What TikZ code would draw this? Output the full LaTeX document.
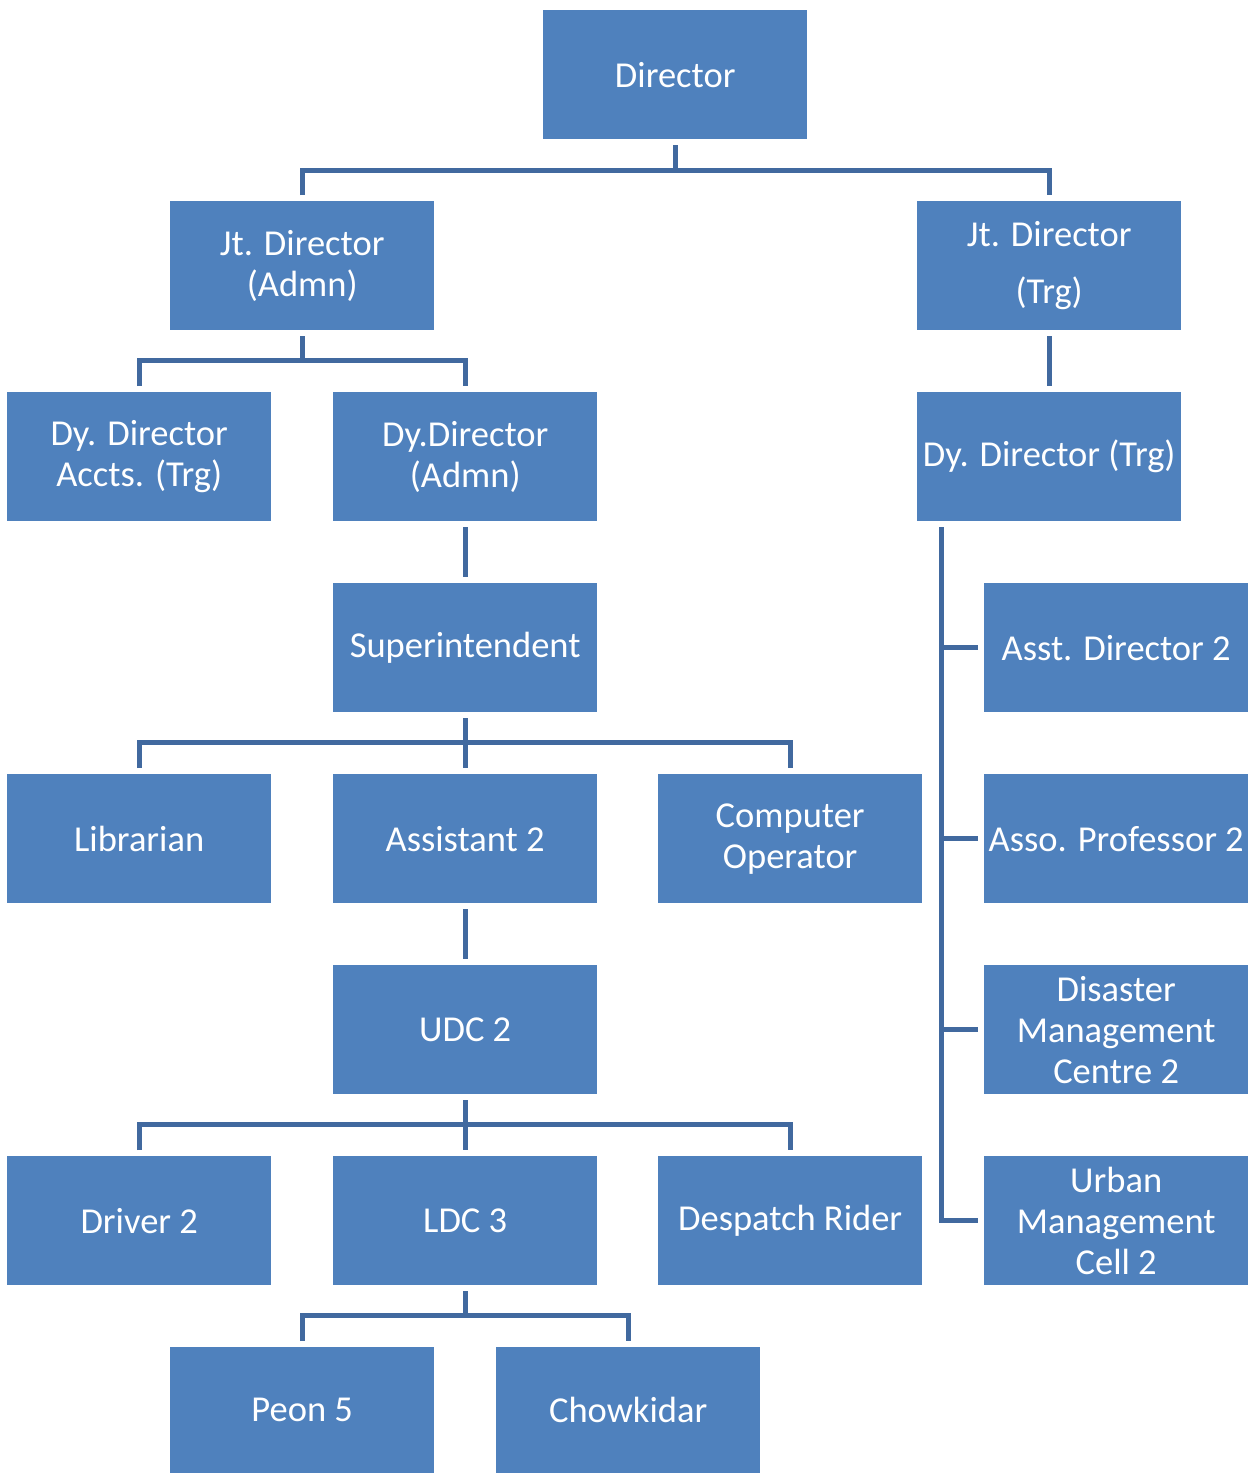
\documentclass[tikz,border=0pt]{standalone}
\usepackage{fontspec}
\setmainfont{Carlito}
\begin{document}
\begin{tikzpicture}[x=1pt,y=-1pt,
  box/.style={fill=boxblue,draw=none,text=white,minimum width=264pt,minimum height=129pt,inner sep=0pt,anchor=north west,align=center,font=\fontsize{36.5}{41}\selectfont},
  conn/.style={draw=lineblue,line width=5pt,line join=miter}]
\definecolor{boxblue}{HTML}{4F81BD}
\definecolor{lineblue}{HTML}{41699F}
\useasboundingbox (0,0) rectangle (1250,1473);
% nodes
\node[box] (dir) at (543,10) {Director};
\node[box] (jta) at (170,201) {Jt. Director\\(Admn)};
\node[box,font=\fontsize{36.5}{57}\selectfont] (jtt) at (917,201) {Jt. Director\\(Trg)};
\node[box] (dda) at (7,392) {Dy. Director\\Accts. (Trg)};
\node[box] (ddad) at (333,392) {Dy.Director\\(Admn)};
\node[box] (ddt) at (917,392) {Dy. Director (Trg)};
\node[box] (sup) at (333,583) {Superintendent};
\node[box] (adir) at (984,583) {Asst. Director 2};
\node[box] (lib) at (7,774) {Librarian};
\node[box] (asst) at (333,774) {Assistant 2};
\node[box] (cop) at (658,774) {Computer\\Operator};
\node[box] (apr) at (984,774) {Asso. Professor 2};
\node[box] (udc) at (333,965) {UDC 2};
\node[box] (dmc) at (984,965) {Disaster\\Management\\Centre 2};
\node[box] (drv) at (7,1156) {Driver 2};
\node[box] (ldc) at (333,1156) {LDC 3};
\node[box] (dsp) at (658,1156) {Despatch Rider};
\node[box] (umc) at (984,1156) {Urban\\Management\\Cell 2};
\node[box,minimum height=126pt] (peon) at (170,1347) {Peon 5};
\node[box,minimum height=126pt] (chk) at (496,1347) {Chowkidar};
% connectors
\draw[conn] ([yshift=-6pt]dir.south) -- ++(0,25) coordinate (d1);
\draw[conn] ([yshift=6pt]jta.north) |- (d1) -| ([yshift=6pt]jtt.north);
\draw[conn] ([yshift=-6pt]jta.south) -- ++(0,24) coordinate (j1);
\draw[conn] ([yshift=6pt]dda.north) |- (j1) -| ([yshift=6pt]ddad.north);
\draw[conn] ([yshift=-6pt]jtt.south) -- ([yshift=6pt]ddt.north);
\draw[conn] ([yshift=-6pt]ddad.south) -- ([yshift=6pt]sup.north);
\draw[conn] ([yshift=-6pt]sup.south) -- ([yshift=6pt]asst.north);
\draw[conn] ([yshift=6pt]lib.north) |- (sup.south |- 0,742) -| ([yshift=6pt]cop.north);
\draw[conn] ([yshift=-6pt]asst.south) -- ([yshift=6pt]udc.north);
\draw[conn] ([yshift=-6pt]udc.south) -- ([yshift=6pt]ldc.north);
\draw[conn] ([yshift=6pt]drv.north) |- (udc.south |- 0,1124) -| ([yshift=6pt]dsp.north);
\draw[conn] ([yshift=-6pt]ldc.south) -- ++(0,24) coordinate (l1);
\draw[conn] ([yshift=6pt]peon.north) |- (l1) -| ([yshift=6pt]chk.north);
\coordinate (rt) at (941,527);
\draw[conn] (rt) |- ([xshift=-6pt]umc.west);
\draw[conn] (rt |- adir.west) -- ([xshift=-6pt]adir.west);
\draw[conn] (rt |- apr.west) -- ([xshift=-6pt]apr.west);
\draw[conn] (rt |- dmc.west) -- ([xshift=-6pt]dmc.west);
\end{tikzpicture}
\end{document}
